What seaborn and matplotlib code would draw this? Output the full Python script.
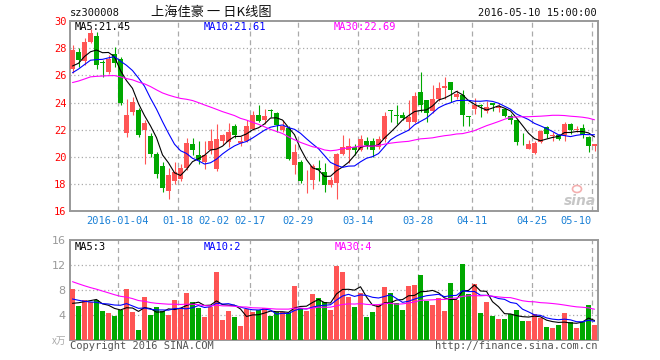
import numpy as np
import pandas as pd
import matplotlib
matplotlib.use("Agg")
import matplotlib.pyplot as plt
import matplotlib.transforms as mtrans
from matplotlib.patches import Ellipse
import seaborn as sns

# ---------------- data ----------------
open_ = [26.5, 27.75, 27.1, 28.5, 28.9, 27.0, 26.27, 27.6, 27.2, 21.75,
         23.3, 23.48, 21.95, 21.5, 20.2, 19.3, 17.45, 18.2, 18.35, 19.2,
         20.95, 20.1, 19.6, 20.47, 19.11, 21.2, 21.09, 22.25, 21.0, 21.2,
         22.07, 23.1, 22.7, 23.43, 23.26, 22.0, 22.15, 19.36, 19.65, 18.2,
         18.3, 19.16, 18.87, 17.95, 18.05, 20.2, 20.5, 20.72, 20.53, 21.14,
         21.15, 20.7, 21.3, 23.43, 23.08, 23.06, 22.6, 22.57, 24.79, 24.17,
         23.35, 24.25, 25.1, 25.53, 24.4, 24.54, 22.98, 23.5, 23.8, 23.38,
         23.97, 23.58, 23.5, 23.0, 22.7, 21.05, 20.6, 20.27, 21.09, 22.22,
         21.55, 21.6, 21.58, 22.42, 22.0, 22.1, 21.46, 20.77]
high = [28.25, 28.05, 28.75, 29.45, 29.2, 27.15, 27.5, 28.1, 27.4, 24.3,
        24.4, 23.6, 22.7, 21.75, 20.35, 19.6, 19.2, 19.6, 19.5, 21.4,
        21.4, 21.2, 21.15, 22.07, 22.4, 21.7, 22.46, 22.4, 21.5, 22.7,
        23.4, 23.8, 23.5, 23.5, 23.3, 22.7, 22.3, 20.95, 19.8, 19.0,
        19.5, 19.78, 19.55, 18.5, 20.3, 21.58, 21.4, 20.95, 21.6, 21.45,
        21.4, 21.55, 23.3, 23.45, 23.8, 23.3, 24.2, 24.75, 26.27, 24.2,
        25.28, 25.5, 25.9, 25.55, 24.9, 24.9, 23.0, 24.37, 23.9, 24.1,
        24.0, 24.0, 23.6, 23.15, 22.8, 21.75, 21.25, 21.2, 22.0, 22.3,
        21.85, 21.7, 22.55, 22.5, 22.25, 22.4, 21.55, 20.96]
low = [26.2, 26.65, 26.8, 28.4, 26.5, 25.9, 26.1, 26.6, 23.85, 21.45,
       23.05, 21.45, 19.5, 20.0, 18.4, 17.4, 16.85, 18.0, 18.25, 19.0,
       20.1, 19.5, 19.1, 20.2, 18.94, 20.9, 20.7, 21.4, 20.8, 21.1,
       21.95, 22.55, 22.45, 22.95, 21.85, 21.85, 19.75, 18.75, 18.1, 17.3,
       17.65, 18.25, 17.4, 17.75, 16.9, 20.1, 19.55, 20.1, 20.4, 20.6,
       19.95, 20.6, 21.1, 22.56, 22.44, 22.7, 21.95, 22.5, 23.31, 22.6,
       23.2, 24.1, 24.3, 24.05, 24.25, 22.3, 22.28, 23.19, 22.95, 23.2,
       23.35, 23.3, 22.9, 22.4, 20.84, 20.85, 20.55, 20.2, 21.0, 21.35,
       21.2, 21.25, 21.15, 21.7, 21.85, 21.4, 20.35, 20.42]
close = [27.9, 27.15, 28.5, 29.1, 26.75, 26.9, 27.25, 26.9, 24.0, 23.05,
         24.05, 21.6, 22.5, 20.2, 18.7, 17.7, 18.65, 18.85, 19.2, 21.0,
         20.5, 19.75, 20.1, 21.16, 21.33, 21.58, 21.83, 21.58, 21.2, 22.25,
         23.06, 22.62, 23.0, 23.38, 22.32, 22.25, 19.85, 20.35, 18.25, 18.22,
         19.3, 19.04, 17.95, 18.32, 20.22, 20.7, 20.77, 20.47, 21.3, 20.84,
         20.5, 21.3, 23.0, 23.38, 23.04, 22.85, 22.9, 24.5, 23.8, 23.25,
         24.3, 25.1, 25.2, 24.93, 24.6, 23.06, 22.94, 23.85, 23.75, 23.65,
         23.8, 23.75, 23.0, 22.7, 21.08, 21.0, 20.92, 21.0, 21.92, 21.7,
         21.6, 21.3, 22.42, 21.95, 22.05, 21.6, 20.8, 20.95]
volume = [8.16, 5.44, 6.4, 6.03, 6.4, 4.64, 4.32, 3.89, 4.8, 8.16,
          4.43, 1.6, 6.93, 4.0, 5.33, 4.64, 4.0, 6.4, 5.07, 7.52,
          6.13, 5.17, 3.73, 5.33, 10.93, 3.2, 4.64, 3.73, 2.29, 4.96,
          4.43, 4.8, 5.07, 3.89, 4.43, 4.43, 4.27, 8.64, 5.07, 4.64,
          7.36, 6.77, 6.03, 4.8, 11.89, 10.93, 6.93, 5.33, 7.52, 3.73,
          4.43, 5.6, 8.48, 7.52, 5.92, 4.8, 8.64, 8.8, 10.4, 6.24,
          5.6, 6.77, 4.64, 9.12, 6.4, 12.16, 7.36, 8.96, 4.32, 6.13,
          3.89, 3.36, 3.36, 4.11, 4.8, 3.04, 3.04, 4.11, 3.57, 2.13,
          1.87, 2.4, 4.32, 2.93, 1.87, 2.83, 5.6, 2.4]
# sessions before the window, estimated from where the MA lines start
warmup_close = [23.8, 24.0, 24.35, 25.6, 26.2, 26.5, 26.7, 26.8, 26.9, 26.8,
                26.6, 26.4, 26.2, 26.0, 24.5, 23.4, 22.8, 22.6, 22.9, 23.3,
                24.4, 25.2, 25.9, 26.3, 26.7, 26.15, 26.0, 27.35, 26.1]
warmup_volume = [15.5, 16.0, 14.8, 14.0, 13.5, 13.0, 12.8, 12.5, 12.0, 11.5,
                 11.0, 10.5, 10.0, 9.1, 6.8, 6.0, 6.5, 6.2, 6.3, 6.26,
                 7.5, 8.0, 7.2, 6.8, 6.75, 5.0, 5.5, 5.2, 5.49]

tick_labels = ["2016-01-04", "01-18", "02-02", "02-17", "02-29",
               "03-14", "03-28", "04-11", "04-25", "05-10"]
tick_session = [8, 18, 24, 30, 38, 48, 58, 67, 77, 87]
grid_session = [8, 18, 30, 38, 48, 58, 67, 77, 87]
price_ticks = [16, 18, 20, 22, 24, 26, 28, 30]
vol_ticks = [4, 8, 12, 16]

stock_code = "sz300008"
title = "上海佳豪 一 日K线图"
stamp = "2016-05-10 15:00:00"
price_ma_text = ["MA5:21.45", "MA10:21.61", "MA30:22.69"]
vol_ma_text = ["MA5:3", "MA10:2", "MA30:4"]

# ---------------- styling ----------------
sns.set_theme(style="white")
plt.rcParams["font.family"] = ["DejaVu Sans Mono", "Noto Sans CJK SC"]

RED = "#ff5555"
GREEN = "#00a800"
MA_COLORS = ["#000000", "#0000ff", "#ff00ff"]
GRID = "#aaaaaa"
BORDER = "#999999"

n = len(close)
idx = np.arange(n)
df = pd.DataFrame({"i": idx, "open": open_, "high": high, "low": low,
                   "close": close, "volume": volume})
df["dir"] = np.where(df["close"] >= df["open"], "up", "down")
colors = np.where(df["dir"] == "up", RED, GREEN)

full_c = pd.Series(warmup_close + close)
full_v = pd.Series(warmup_volume + volume)
k = len(warmup_close)
for w in (5, 10, 30):
    df[f"ma{w}"] = full_c.rolling(w).mean().iloc[k:].to_numpy()
    df[f"vma{w}"] = full_v.rolling(w).mean().iloc[k:].to_numpy()

W, H = 660, 360
fig = plt.figure(figsize=(W / 100, H / 100), dpi=100)
fig.patch.set_facecolor("white")
ax1 = fig.add_axes([70 / W, 149 / H, 528 / W, 190 / H])
ax2 = fig.add_axes([70 / W, 20 / H, 528 / W, 100 / H])

xl = (-2.5 / 6, n - 2.5 / 6)

# ---------------- price panel ----------------
for y in price_ticks[1:-1]:
    ax1.axhline(y, color=GRID, lw=0.9, ls=(0, (1, 2)), zorder=0)
for g in grid_session:
    ax1.axvline(g - 0.42, color=GRID, lw=0.9, ls=(0, (4, 3)), zorder=0)

body_bottom = np.minimum(df["open"], df["close"])
body_h = np.maximum(np.abs(df["close"] - df["open"]), 0.05)
ax1.vlines(idx, df["low"], df["high"], colors=colors, lw=0.8, zorder=2)
ax1.bar(idx, body_h, bottom=body_bottom, width=5 / 6, color=colors,
        linewidth=0, zorder=3)
for w, c in zip((5, 10, 30), MA_COLORS):
    sns.lineplot(x=idx, y=df[f"ma{w}"].to_numpy(), ax=ax1, color=c,
                 linewidth=0.8, zorder=4)

ax1.set_xlim(*xl)
ax1.set_ylim(16, 30.02)
ax1.set_yticks(price_ticks)
ax1.set_yticklabels([str(t) for t in price_ticks])
ax1.tick_params(axis="y", length=0, pad=2.5, labelcolor="#ff0000", labelsize=7.5)
ax1.set_xticks([])
ax1.set_xlabel("")
ax1.set_ylabel("")
tr1 = mtrans.blended_transform_factory(ax1.transData, ax1.transAxes)
for lab, s in zip(tick_labels, tick_session):
    ha = "right" if s == tick_session[-1] else "center"
    ax1.text(s - 0.42, -0.053, lab, transform=tr1, ha=ha, va="center",
             color="#1a80d6", fontsize=7.5)

# ---------------- volume panel ----------------
sns.barplot(data=df, x="i", y="volume", hue="dir", palette={"up": RED, "down": GREEN},
            dodge=False, width=5 / 6, saturation=1, linewidth=0, legend=False,
            ax=ax2, zorder=3)
for y in vol_ticks[:-1]:
    ax2.axhline(y, color=GRID, lw=0.9, ls=(0, (1, 2)), zorder=0)
for g in grid_session:
    ax2.axvline(g - 0.42, color=GRID, lw=0.9, ls=(0, (4, 3)), zorder=0)
for w, c in zip((5, 10, 30), MA_COLORS):
    sns.lineplot(x=idx, y=df[f"vma{w}"].to_numpy(), ax=ax2, color=c,
                 linewidth=0.8, zorder=4)
ax2.set_xlim(*xl)
ax2.set_ylim(0, 16)
ax2.set_yticks(vol_ticks)
ax2.set_yticklabels([str(t) for t in vol_ticks], family="DejaVu Sans")
ax2.tick_params(axis="y", length=0, pad=3, labelcolor="#999999", labelsize=8)
ax2.set_xticks([])
ax2.set_xlabel("")
ax2.set_ylabel("")

for ax in (ax1, ax2):
    for sp in ax.spines.values():
        sp.set_color(BORDER)
        sp.set_linewidth(1.4)
    ax.set_facecolor("white")

# ---------------- texts ----------------
def ftext(x, y, s, **kw):
    fig.text(x / W, 1 - y / H, s, **kw)

ftext(70, 12.5, stock_code, ha="left", va="center", fontsize=7.5, color="#111111")
ftext(151, 12.5, title, ha="left", va="center", fontsize=9.5, color="#111111",
      family=["Noto Sans CJK SC", "DejaVu Sans"])
ftext(597, 12.5, stamp, ha="right", va="center", fontsize=7.5, color="#111111")
for s, x, c in zip(price_ma_text, (75, 204, 334), MA_COLORS):
    ftext(x, 26.5, s, ha="left", va="center", fontsize=7.5, color=c)
for s, x, c in zip(vol_ma_text, (75, 204, 335), MA_COLORS):
    ftext(x, 247, s, ha="left", va="center", fontsize=7.5, color=c)
ftext(66, 341, "x万", ha="right", va="center", fontsize=7, color="#aaaaaa",
      style="italic", family=["Noto Sans CJK SC", "DejaVu Sans"])
ftext(70, 346, "Copyright 2016 SINA.COM", ha="left", va="center", fontsize=7.5,
      color="#555555")
ftext(597, 346, "http://finance.sina.com.cn", ha="right", va="center",
      fontsize=7.5, color="#555555")
# sina watermark
ftext(580, 201, "sina", ha="center", va="center", fontsize=10, color="#c6c6c6",
      weight="bold", style="italic", family="DejaVu Sans")
fig.patches.append(Ellipse((577 / W, 1 - 189 / H), 9 / W, 7 / H,
                           transform=fig.transFigure, fill=False,
                           edgecolor="#f4b0b0", lw=1.2))

fig.savefig("out.png", dpi=100, facecolor="white")
